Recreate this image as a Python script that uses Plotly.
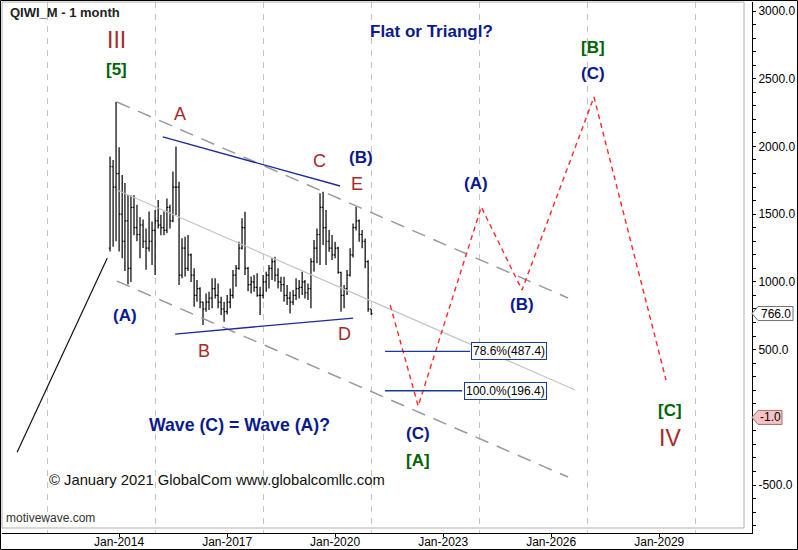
import plotly.graph_objects as go
import pandas as pd

# ---------------- data ----------------
title_text = "QIWI_M - 1 month"
first_bar = "2013-10-01"

opens = [1250, 1850, 1700,
         1800, 1500, 1300, 1450, 1100, 1550, 1400, 1350, 1420, 1300, 1250, 1300,
         1380, 1450, 1420, 1400, 1380, 1550, 1450, 1700, 1700, 1050, 1250, 1100,
         1200, 1050, 900, 950, 850, 800, 850, 880, 950, 900, 850, 800,
         780, 850, 900, 1050, 1100, 1250, 1400, 1100, 980, 1000, 960, 900,
         900, 1000, 1050, 1100, 1150, 1050, 1000, 980, 900, 880, 850, 900,
         950, 960, 1000, 920, 950, 1150, 1250, 1350, 1550, 1400, 1300, 1250,
         1200, 1250, 1070, 900, 950, 1050, 1200, 1400, 1450, 1350, 1300, 1150,
         800]
highs = [1925, 1900, 2330,
         1995, 1790, 1730, 1640, 1640, 1640, 1570, 1480, 1460, 1395, 1520, 1445,
         1530, 1605, 1495, 1520, 1615, 1570, 1815, 2000, 1740, 1322, 1334, 1346,
         1210, 1100, 1014, 960, 854, 915, 928, 1026, 1026, 989, 890, 854,
         903, 952, 1088, 1124, 1297, 1470, 1518, 1110, 1040, 1050, 1063, 965,
         1050, 1075, 1124, 1174, 1186, 1100, 1038, 1038, 977, 928, 940, 1026,
         1014, 1075, 1014, 989, 1174, 1309, 1395, 1654, 1666, 1530, 1383, 1346,
         1297, 1260, 1075, 977, 1088, 1248, 1432, 1555, 1460, 1383, 1321, 1160,
         800]
lows = [1225, 1260, 1300,
        1225, 1175, 1080, 980, 1000, 1345, 1300, 1175, 1250, 1090, 1225, 1125,
        1050, 1395, 1345, 1345, 1360, 1395, 1440, 1494, 977, 1026, 1040, 1080,
        1000, 817, 854, 805, 681, 780, 792, 805, 878, 805, 755, 706,
        760, 805, 878, 965, 1090, 1240, 1050, 930, 915, 928, 891, 755,
        878, 928, 952, 1014, 1002, 952, 928, 854, 829, 767, 830, 866,
        878, 903, 878, 866, 805, 1075, 1137, 1124, 1272, 1124, 1223, 1162,
        1174, 1060, 780, 805, 903, 1040, 1180, 1380, 1297, 1248, 1100, 780,
        755]
closes = [1850, 1700, 1800,
          1500, 1300, 1450, 1100, 1550, 1400, 1350, 1420, 1300, 1250, 1300, 1380,
          1450, 1420, 1400, 1380, 1550, 1450, 1700, 1700, 1050, 1250, 1100, 1200,
          1050, 900, 950, 850, 800, 850, 880, 950, 900, 850, 800, 780,
          850, 900, 1050, 1100, 1250, 1400, 1100, 980, 1000, 960, 900, 900,
          1000, 1050, 1100, 1150, 1050, 1000, 980, 900, 880, 850, 900, 950,
          960, 1000, 920, 950, 1150, 1250, 1350, 1550, 1400, 1300, 1250, 1200,
          1250, 1070, 900, 950, 1050, 1200, 1400, 1450, 1350, 1300, 1150, 800,
          766]

channel_upper_x = ["2013-12-10", "2026-06-21"]
channel_upper_y = [2328, 881]
channel_mid_x = ["2013-12-10", "2026-09-02"]
channel_mid_y = [1678, 202]
channel_low_x = ["2013-12-10", "2026-06-21"]
channel_low_y = [1006, -441]

tri_upper_x = ["2015-03-20", "2020-02-21"]
tri_upper_y = [2070, 1708]
tri_lower_x = ["2015-07-23", "2020-07-02"]
tri_lower_y = [615, 733]

wave3_x = ["2011-03-03", "2013-09-02"]
wave3_y = [-258, 1174]

proj_x = ["2021-07-13", "2022-04-23", "2024-01-23", "2025-03-11", "2027-03-11", "2029-03-11"]
proj_y = [829, 83, 1553, 940, 2365, 275]

fib_levels = [487.4, 196.4]
fib_labels = ["78.6%(487.4)", "100.0%(196.4)"]
fib_start = "2021-05-22"
fib_end = ["2023-10-01", "2023-07-12"]
fib_label_right = "2025-11-21"

last_price = 766.0
target_price = -1.0

x_ticks = ["2014-01-01", "2017-01-01", "2020-01-01", "2023-01-01", "2026-01-01", "2029-01-01"]
x_ticktext = ["Jan-2014", "Jan-2017", "Jan-2020", "Jan-2023", "Jan-2026", "Jan-2029"]
x_grid = ["2012-01-01", "2015-01-01", "2018-01-01", "2021-01-01", "2024-01-01", "2027-01-01", "2030-01-01"]
y_ticks = [-500, 0, 500, 1000, 1500, 2000, 2500, 3000]
y_ticktext = ["-500.0", "", "500.0", "1000.0", "1500.0", "2000.0", "2500.0", "3000.0"]

# wave labels: (text, date, value, color, size, bold)
RED = "#a52a2a"
NAVY = "#0a1a8c"
GREEN = "#006400"
wave_labels = [
    ("III", "2013-12-10", 2786, RED, 23, False),
    ("[5]", "2013-12-10", 2565, GREEN, 17, True),
    ("A", "2015-09-09", 2239, RED, 18, False),
    ("C", "2019-07-31", 1892, RED, 18, False),
    ("(B)", "2020-09-20", 1922, NAVY, 17, True),
    ("E", "2020-08-11", 1723, RED, 18, False),
    ("(A)", "2014-03-03", 755, NAVY, 17, True),
    ("B", "2016-05-11", 489, RED, 18, False),
    ("D", "2020-04-01", 615, RED, 18, False),
    ("Flat or Triangl?", "2022-09-09", 2852, NAVY, 17, True),
    ("[B]", "2027-03-03", 2727, GREEN, 17, True),
    ("(C)", "2027-03-03", 2535, NAVY, 17, True),
    ("(A)", "2023-12-02", 1730, NAVY, 17, True),
    ("(B)", "2025-03-11", 836, NAVY, 17, True),
    ("(C)", "2022-04-23", -123, NAVY, 17, True),
    ("[A]", "2022-04-23", -315, GREEN, 17, True),
    ("[C]", "2029-04-23", 54, GREEN, 17, True),
    ("IV", "2029-04-23", -153, RED, 23, False),
    ("Wave (C) = Wave (A)?", "2017-05-11", -57, NAVY, 17.7, True),
]
copyright_text = "© January 2021 GlobalCom www.globalcomllc.com"
copyright_pos = ("2016-09-20", -463)
brand_text = "motivewave.com"

# ---------------- layout helpers (pixel -> paper) ----------------
W, H = 798, 550
L, R, T, B = 2, 46, 2, 17
PW, PH = W - L - R, H - T - B


def px(x):
    return (x - L) / PW


def py(y):
    return (H - B - y) / PH


FONT = "Liberation Sans, Arial, sans-serif"

fig = go.Figure()

dates = pd.date_range(first_bar, periods=len(opens), freq="MS")

line_traces = [
    (channel_upper_x, channel_upper_y, "#9a9a9a", 1.5, "14px,9px"),
    (channel_low_x, channel_low_y, "#9a9a9a", 1.5, "14px,9px"),
    (channel_mid_x, channel_mid_y, "#c4c4c4", 1.2, "solid"),
    (tri_upper_x, tri_upper_y, "#1a2a9a", 1.3, "solid"),
    (tri_lower_x, tri_lower_y, "#1a2a9a", 1.3, "solid"),
    (wave3_x, wave3_y, "#111111", 1.2, "solid"),
    (proj_x, proj_y, "#ff2a2a", 1.4, "5px,4px"),
]
for xs, ys, col, w, dash in line_traces:
    fig.add_trace(go.Scatter(x=xs, y=ys, mode="lines", line=dict(color=col, width=w, dash=dash),
                             hoverinfo="skip", showlegend=False))

for lvl, xe in zip(fib_levels, fib_end):
    fig.add_trace(go.Scatter(x=[fib_start, xe], y=[lvl, lvl], mode="lines",
                             line=dict(color="#1a3a9a", width=1.3), hoverinfo="skip", showlegend=False))

fig.add_trace(go.Ohlc(x=dates, open=opens, high=highs, low=lows, close=closes,
                      increasing=dict(line=dict(color="black", width=1.2)),
                      decreasing=dict(line=dict(color="black", width=1.2)),
                      tickwidth=0.45, showlegend=False))

annotations = []
for text, xd, yv, col, size, bold in wave_labels:
    t = f"<b>{text}</b>" if bold else text
    annotations.append(dict(x=xd, y=yv, xref="x", yref="y", text=t, showarrow=False,
                            font=dict(family=FONT, size=size, color=col),
                            xanchor="center", yanchor="middle"))
for lvl, lab in zip(fib_levels, fib_labels):
    annotations.append(dict(x=fib_label_right, y=lvl, xref="x", yref="y", text=lab, showarrow=False,
                            font=dict(family=FONT, size=12, color="#000"), xanchor="right", yanchor="middle",
                            bgcolor="white", bordercolor="#1a3a9a", borderwidth=1, borderpad=1))
annotations.append(dict(x=copyright_pos[0], y=copyright_pos[1], xref="x", yref="y", text=copyright_text,
                        showarrow=False, font=dict(family=FONT, size=14.8, color="#111"),
                        xanchor="center", yanchor="middle"))
annotations.append(dict(x=px(4), y=py(518), xref="paper", yref="paper", text=brand_text, showarrow=False,
                        font=dict(family=FONT, size=12, color="#333"), xanchor="left", yanchor="middle"))
annotations.append(dict(x=px(8), y=py(13), xref="paper", yref="paper", text=f"<b>{title_text}</b>",
                        showarrow=False, font=dict(family=FONT, size=13, color="#222"),
                        xanchor="left", yanchor="middle"))

# price markers on the right axis
shapes = []
def price_marker(value, text, fill, border, width):
    yp = 11 + (3000 - value) * 0.13543
    tip = 752
    x0, x1 = tip + 6, tip + 6 + width
    y0, y1 = yp - 7, yp + 7
    path = (f"M {px(tip)},{py(yp)} L {px(x0)},{py(y0)} L {px(x1)},{py(y0)} "
            f"L {px(x1)},{py(y1)} L {px(x0)},{py(y1)} Z")
    shapes.append(dict(type="path", xref="paper", yref="paper", path=path, fillcolor=fill,
                       line=dict(color=border, width=1), layer="above"))
    annotations.append(dict(x=px((x0 + x1) / 2), y=py(yp), xref="paper", yref="paper", text=text,
                            showarrow=False, font=dict(family=FONT, size=12, color="#000"),
                            xanchor="center", yanchor="middle"))

price_marker(last_price, f"{last_price:.1f}", "white", "#707070", 35)
price_marker(target_price, f"{target_price:.1f}", "#f4c4c4", "#a07070", 24)

# gray plot frame and outer border
shapes.append(dict(type="rect", xref="paper", yref="paper", x0=px(2), x1=px(744), y0=py(528), y1=py(2),
                   line=dict(color="#b0b0a8", width=1), layer="below"))
shapes.append(dict(type="rect", xref="paper", yref="paper", x0=px(0.5), x1=px(797.5), y0=py(549.5), y1=py(0.5),
                   line=dict(color="#000", width=1), layer="above"))

fig.update_layout(
    width=W, height=H, margin=dict(l=L, r=R, t=T, b=B, autoexpand=False),
    paper_bgcolor="white", plot_bgcolor="white",
    showlegend=False, annotations=annotations, shapes=shapes,
    font=dict(family=FONT, size=12, color="#000"),
    xaxis=dict(type="date", range=["2010-10-01", "2031-07-31"], rangeslider=dict(visible=False),
               automargin=False, ticklabelstandoff=-5,
               tickmode="array", tickvals=x_ticks, ticktext=x_ticktext,
               ticks="outside", ticklen=3, tickcolor="#000", showgrid=False,
               showline=True, linecolor="#000", linewidth=1, zeroline=False,
               tickfont=dict(family=FONT, size=12, color="#000"),
               minor=dict(tickmode="array", tickvals=x_grid, showgrid=True, gridcolor="#c4c4c4",
                          griddash="6px,6px", gridwidth=1, ticks="")),
    yaxis=dict(side="right", range=[-854, 3066.5], tickmode="array", tickvals=y_ticks, ticktext=y_ticktext,
               automargin=False,
               ticks="outside", ticklen=3, tickcolor="#000", showgrid=False, zeroline=False,
               showline=True, linecolor="#000", linewidth=1,
               tickfont=dict(family=FONT, size=12, color="#000"),
               minor=dict(tickmode="linear", tick0=0, dtick=100, ticks="outside", ticklen=3, tickcolor="#000")),
)

fig.write_html("out.html", config={"displayModeBar": False},
               post_script="document.body.style.margin='0';document.body.style.overflow='hidden';")
